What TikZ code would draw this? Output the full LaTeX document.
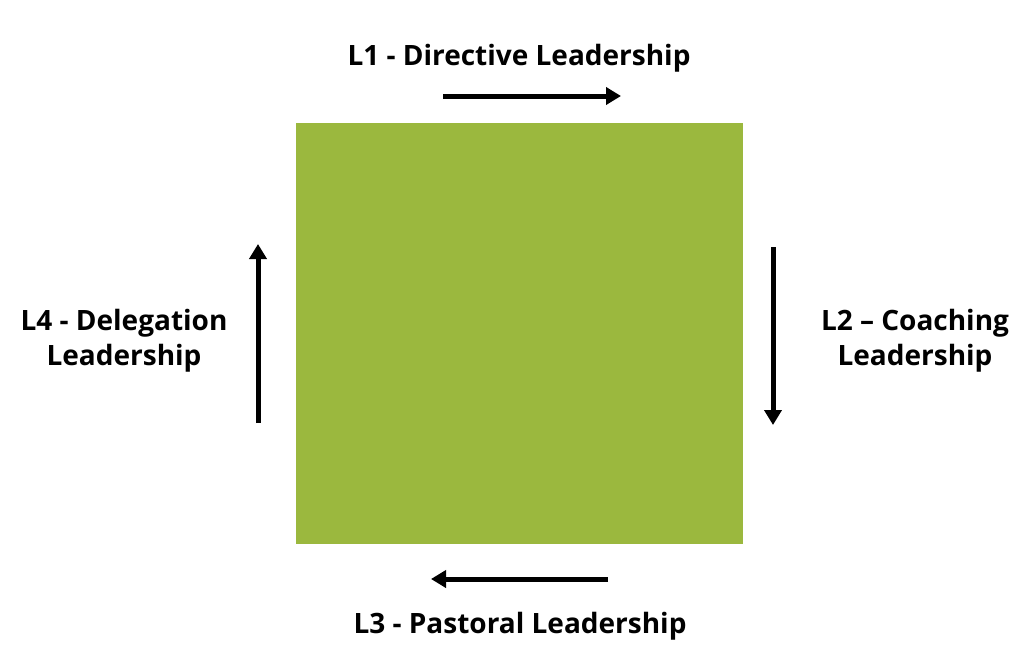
\documentclass[tikz,border=0pt]{standalone}
\usepackage{fontspec}
\setmainfont{Open Sans}
\usetikzlibrary{arrows.meta}

\definecolor{leafgreen}{RGB}{155,184,62}

\tikzset{
    flow/.style={line width=5pt, -{Triangle[length=15pt,width=17pt]}},
    stage/.style={font=\bfseries\fontsize{28}{35}\selectfont, align=center, inner sep=0pt}
}

\begin{document}
\begin{tikzpicture}[x=1pt, y=-1pt]
    \useasboundingbox (0,0) rectangle (1024,661);

    \fill[leafgreen] (296,123) rectangle (743,544);

    \node[stage, anchor=base] (l1) at (519,65) {L1 - Directive Leadership};
    \node[stage] (l2) at (915,341) {L2 -- Coaching\\Leadership};
    \node[stage, anchor=base] (l3) at (520,633) {L3 - Pastoral Leadership};
    \node[stage] (l4) at (124,341) {L4 - Delegation\\Leadership};

    \coordinate (t1) at (443,96);  \coordinate (h1) at (621,96);
    \coordinate (t2) at (773,247); \coordinate (h2) at (773,425);
    \coordinate (t3) at (608,579); \coordinate (h3) at (431,579);
    \coordinate (t4) at (258,423); \coordinate (h4) at (258,244);

    \draw[flow] (t1) -- (h1);
    \draw[flow] (t2) -- (h2);
    \draw[flow] (t3) -- (h3);
    \draw[flow] (t4) -- (h4);
\end{tikzpicture}
\end{document}
